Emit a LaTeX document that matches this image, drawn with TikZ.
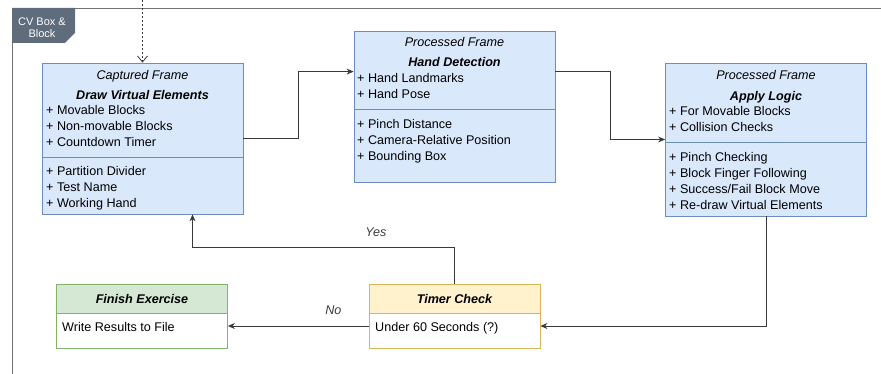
\documentclass[tikz,border=0pt]{standalone}
\usepackage{fontspec}
\setmainfont{Liberation Sans}
\usetikzlibrary{arrows.meta}

\definecolor{blueFill}{HTML}{DAE8FC}
\definecolor{blueLine}{HTML}{6C8EBF}
\definecolor{greenFill}{HTML}{D5E8D4}
\definecolor{greenLine}{HTML}{82B366}
\definecolor{yellowFill}{HTML}{FFF2CC}
\definecolor{yellowLine}{HTML}{D6B656}
\definecolor{tabFill}{HTML}{5E6C7B}
\definecolor{wire}{HTML}{3A3A3A}

\tikzset{
  frame/.style={draw=blueLine, fill=blueFill, line width=0.8pt, inner sep=0pt,
                minimum width=201pt},
  endbox/.style={fill=white, line width=0.8pt, inner sep=0pt,
                 minimum width=171pt, minimum height=64pt},
  head/.style={line width=0.8pt, inner sep=0pt, minimum width=171pt, minimum height=29pt},
  caption/.style={font=\fontsize{12.6}{14}\selectfont\itshape, anchor=base, inner sep=0pt},
  heading/.style={font=\fontsize{12.6}{14}\selectfont\bfseries\itshape, anchor=base, inner sep=0pt},
  items/.style={font=\fontsize{12.6}{16}\selectfont, align=left, anchor=north west, inner sep=0pt},
  line/.style={font=\fontsize{12.6}{14}\selectfont, anchor=base west, inner sep=0pt},
  flow/.style={draw=wire, line width=1pt, -{Stealth[length=7pt, width=6pt]}},
  answer/.style={font=\fontsize{12.6}{14}\selectfont\itshape, text=wire}
}

\begin{document}
\begin{tikzpicture}[x=1pt, y=-1pt]
\useasboundingbox (0,0) rectangle (881,374);

%% outer frame and tab
\draw[black!55, line width=0.7pt] (12,374) -- (12,8) -- (881,8);
\fill[tabFill] (12,8) -- (75,8) -- (75,33) -- (65,43) -- (12,43) -- cycle;
\node[font=\fontsize{11}{11.5}\selectfont, text=white, align=center, inner sep=0pt] (tab) at (42,27.5) {CV Box \&\\Block};

%% boxes
\node[frame, minimum height=151pt] (cap)   at (142.5,138.5) {};
\node[frame, minimum height=151pt] (hand)  at (454.5,106.5) {};
\node[frame, minimum height=153pt] (logic) at (766,139.5) {};
\node[endbox, draw=greenLine]  (finish) at (142,316) {};
\node[endbox, draw=yellowLine] (timer)  at (454.5,316) {};
\node[head, draw=greenLine, fill=greenFill, anchor=north]    (finishHead) at (finish.north) {};
\node[head, draw=yellowLine, fill=yellowFill, anchor=north]  (timerHead)  at (timer.north) {};

%% dividers
\draw[blueLine, line width=0.8pt] (cap.west |- 0,157) -- (cap.east |- 0,157);
\draw[blueLine, line width=0.8pt] (hand.west |- 0,109) -- (hand.east |- 0,109);
\draw[blueLine, line width=0.8pt] (logic.west |- 0,142) -- (logic.east |- 0,142);

%% captured frame
\node[caption] (capTitle) at (142.5,79.5) {Captured Frame};
\node[heading] (capHead)  at (142.5,99.5) {Draw Virtual Elements};
\node[items] (capA) at (46,105.3) {+ Movable Blocks\\+ Non-movable Blocks\\+ Countdown Timer};
\node[items] (capB) at (46,166.3) {+ Partition Divider\\+ Test Name\\+ Working Hand};

%% hand detection
\node[caption] (handTitle) at (454.5,46.5) {Processed Frame};
\node[heading] (handHead)  at (454.5,66.5) {Hand Detection};
\node[items] (handA) at (357,73.3) {+ Hand Landmarks\\+ Hand Pose};
\node[items] (handB) at (357,119.3) {+ Pinch Distance\\+ Camera-Relative Position\\+ Bounding Box};

%% apply logic
\node[caption] (logicTitle) at (766,79.5) {Processed Frame};
\node[heading] (logicHead)  at (766,100.5) {Apply Logic};
\node[items] (logicA) at (669,106.3) {+ For Movable Blocks\\+ Collision Checks};
\node[items] (logicB) at (669,152.3) {+ Pinch Checking\\+ Block Finger Following\\+ Success/Fail Block Move\\+ Re-draw Virtual Elements};

%% end boxes
\node[heading] (finishTitle) at (142,303.5) {Finish Exercise};
\node[line] (finishText) at (62,331.5) {Write Results to File};
\node[heading] (timerTitle) at (454.5,303.5) {Timer Check};
\node[line] (timerText) at (375,331.5) {Under 60 Seconds (?)};

%% connectors
\coordinate (entry) at (142.5,0);
\draw[draw=wire, line width=0.8pt, dash pattern=on 2pt off 2pt,
      -{Straight Barb[length=6pt, width=10pt]}] (entry) -- (cap.north);
\draw[flow] (cap.east) -- ++(55,0) |- ([yshift=-41pt]hand.north west);
\draw[flow] ([yshift=-41pt]hand.north east) -- ++(55,0) |- (logic.west);
\draw[flow] (logic.south) |- ([yshift=-10pt]timer.east);
\draw[flow] (timer.north) -- ++(0,-36) -| ([xshift=50pt]cap.south)
      node[answer, pos=0.15, above=7pt] (yes) {Yes};
\draw[flow] ([yshift=-10pt]timer.west) -- ([yshift=-10pt]finish.east)
      node[answer, pos=0.25, above=8pt] (no) {No};
\end{tikzpicture}
\end{document}
